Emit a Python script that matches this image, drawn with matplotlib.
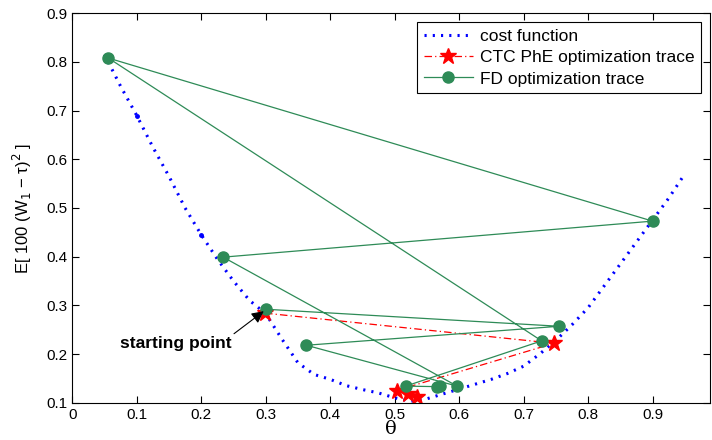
import matplotlib
matplotlib.use('Agg')
import matplotlib.pyplot as plt
import numpy as np

plt.rcParams['font.family'] = ['Liberation Sans', 'DejaVu Sans']

# cost function samples
cost_x = [0.05, 0.075, 0.10, 0.125, 0.15, 0.175, 0.20, 0.225, 0.25, 0.275,
          0.30, 0.325, 0.35, 0.375, 0.40, 0.425, 0.45, 0.475, 0.50, 0.525,
          0.55, 0.575, 0.60, 0.625, 0.65, 0.675, 0.70, 0.725, 0.75, 0.775,
          0.80, 0.825, 0.85, 0.875, 0.90, 0.925, 0.95]
cost_y = [0.815, 0.75, 0.69, 0.625, 0.565, 0.50, 0.445, 0.395, 0.35, 0.31,
          0.283, 0.231, 0.182, 0.158, 0.148, 0.135, 0.127, 0.12, 0.11, 0.103,
          0.108, 0.118, 0.128, 0.138, 0.148, 0.16, 0.175, 0.2, 0.228, 0.26,
          0.295, 0.34, 0.385, 0.43, 0.475, 0.52, 0.57]
dot_idx = [2, 6]  # samples drawn as visible dots on the curve

# CTC PhE trace
ctc_x = [0.299, 0.747, 0.503, 0.521, 0.534]
ctc_y = [0.284, 0.222, 0.125, 0.118, 0.112]

# FD trace
fd_x = [0.300, 0.755, 0.363, 0.597, 0.234, 0.900, 0.056, 0.728, 0.517, 0.565, 0.571]
fd_y = [0.292, 0.257, 0.218, 0.134, 0.399, 0.473, 0.808, 0.227, 0.134, 0.133, 0.134]

fig = plt.figure(figsize=(7.12, 4.4), dpi=100)
ax = fig.add_axes([0.1015, 0.0848, 0.8956, 0.885])

ax.plot(cost_x, cost_y, color='blue', linestyle=(0, (0.7, 2.0)), linewidth=2.2,
        label='cost function')
ax.plot([cost_x[i] for i in dot_idx], [cost_y[i] for i in dot_idx],
        linestyle='none', marker='.', color='blue', markersize=5)
ax.plot(ctc_x, ctc_y, color='red', linestyle=(0, (6, 2.5, 1, 2.5)), linewidth=0.9,
        marker='*', markersize=12, label='CTC PhE optimization trace')
ax.plot(fd_x, fd_y, color='seagreen', linestyle='-', linewidth=0.9,
        marker='o', markersize=8, label='FD optimization trace')

ax.annotate('starting point', xy=(0.297, 0.288), xytext=(0.16, 0.222),
            fontsize=12.5, fontweight='bold', ha='center', va='center',
            arrowprops=dict(arrowstyle='-|>', color='black', lw=0.8,
                            mutation_scale=18, relpos=(1.0, 1.0),
                            shrinkA=0, shrinkB=0))

ax.set_xlim(0, 0.989)
ax.set_ylim(0.1, 0.9)
ax.set_xticks(np.arange(0, 0.95, 0.1))
ax.set_xticklabels(['0', '0.1', '0.2', '0.3', '0.4', '0.5', '0.6', '0.7', '0.8', '0.9'])
ax.set_yticks(np.arange(0.1, 0.95, 0.1))
ax.set_yticklabels(['0.1', '0.2', '0.3', '0.4', '0.5', '0.6', '0.7', '0.8', '0.9'])
ax.tick_params(direction='in', top=True, right=True, labelsize=11, length=5)

ax.set_xlabel('θ', fontsize=14, labelpad=-1, family='DejaVu Serif')
ax.set_ylabel('E[ 100 (W$_1$ − τ)$^2$ ]', fontsize=12, labelpad=9)

leg = ax.legend(loc='upper right', fontsize=12.5, fancybox=False,
                edgecolor='black', framealpha=1, borderaxespad=0.5,
                handlelength=2.8, labelspacing=0.35, borderpad=0.4,
                handletextpad=0.4)
leg.get_frame().set_linewidth(0.8)

fig.savefig('out.png', dpi=100)
